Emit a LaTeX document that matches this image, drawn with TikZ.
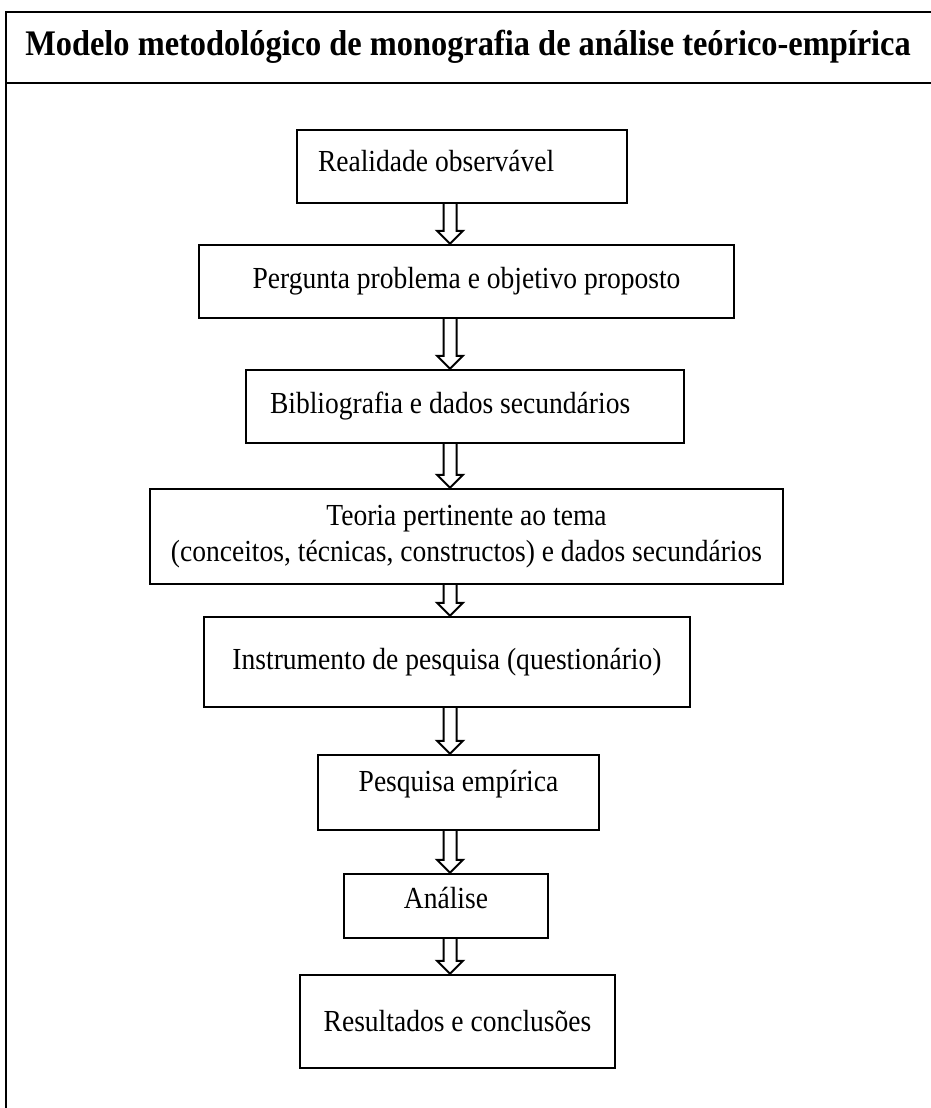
\documentclass[tikz,border=0pt]{standalone}
\usepackage{fontspec}
\setmainfont[FakeStretch=0.9]{Liberation Serif}
\usepackage{tikz}
\usetikzlibrary{calc}
\tikzset{
  box/.style={draw, line width=1.2pt, inner sep=0pt, align=center,
    font=\fontsize{15.3}{18}\selectfont},
  leftbox/.style={box, align=flush left},
  frame/.style={line width=1.4pt},
  hollow/.style={draw, line width=1pt, to path={
    let \p1=(\tikztostart), \p2=(\tikztotarget) in
    (\x1-3.25pt,\y1) -- (\x1-3.25pt,\y2+6.5pt) -- (\x1-6.5pt,\y2+6.5pt)
    -- (\x1,\y2) -- (\x1+6.5pt,\y2+6.5pt) -- (\x1+3.25pt,\y2+6.5pt)
    -- (\x1+3.25pt,\y1)}}
}

\begin{document}
\begin{tikzpicture}[x=0.5pt,y=-0.5pt]
\useasboundingbox (0,0) rectangle (931,1108);
\clip (0,0) rectangle (931,1108);
\draw[frame] (6,1130) |- (960,12);
\draw[frame] (6,83) -- (960,83);
\node[font=\fontsize{18}{21}\selectfont\bfseries] (titulo) at (468,47)
  {Modelo metodológico de monografia de análise teórico-empírica};

\coordinate (ax) at (450,0);

\node[leftbox, minimum width=165pt, minimum height=36.5pt, text width=144pt, text depth=6pt] (realidade) at (462,166.5) {Realidade observável};
\node[box, minimum width=267.5pt, minimum height=36.5pt] (pergunta) at (466.5,281.5) {Pergunta problema e objetivo proposto};
\node[leftbox, minimum width=219pt, minimum height=36.5pt, text width=195pt] (biblio) at (465,406.5) {Bibliografia e dados secundários};
\node[box, minimum width=316.5pt, minimum height=47.5pt] (teoria) at (466.5,536.5)
  {Teoria pertinente ao tema\\(conceitos, técnicas, constructos) e dados secundários};
\node[box, minimum width=243pt, minimum height=45pt] (instrumento) at (447,662) {Instrumento de pesquisa (questionário)};
\node[box, minimum width=140.5pt, minimum height=37.5pt, text depth=12pt] (empirica) at (458.5,792.5) {Pesquisa empírica};
\node[box, minimum width=102pt, minimum height=32pt, text depth=8pt] (analise) at (446,906) {Análise};
\node[box, minimum width=157.5pt, minimum height=46.5pt] (resultados) at (457.5,1021.5) {Resultados e conclusões};

\path
(realidade.south -| ax) edge[hollow] (pergunta.north -| ax)
(pergunta.south -| ax) edge[hollow] (biblio.north -| ax)
(biblio.south -| ax) edge[hollow] (teoria.north -| ax)
(teoria.south -| ax) edge[hollow] (instrumento.north -| ax)
(instrumento.south -| ax) edge[hollow] (empirica.north -| ax)
(empirica.south -| ax) edge[hollow] (analise.north -| ax)
(analise.south -| ax) edge[hollow] (resultados.north -| ax)
;
\end{tikzpicture}
\end{document}
